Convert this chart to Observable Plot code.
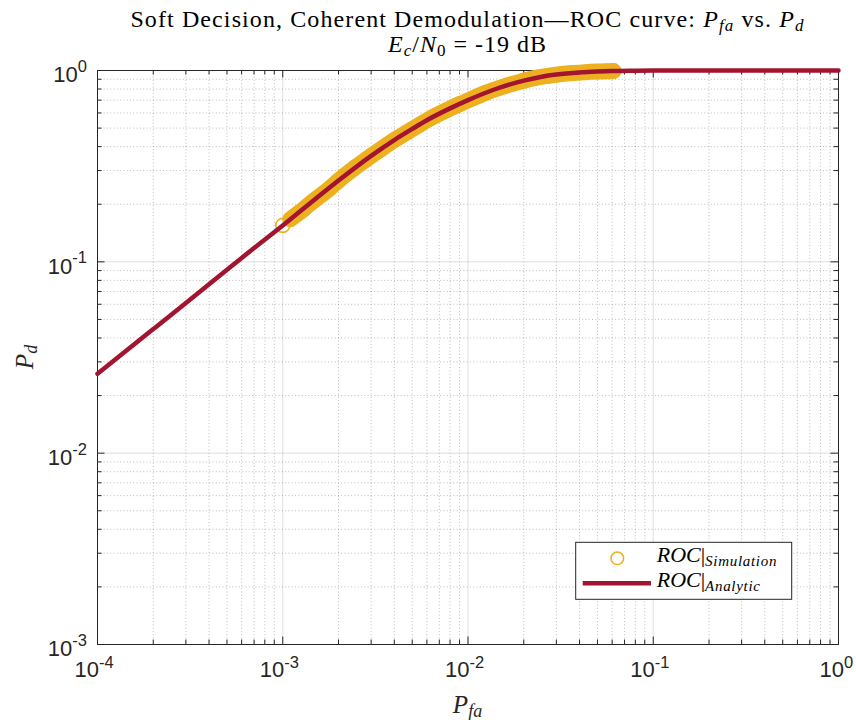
<!DOCTYPE html>
<html><head><meta charset="utf-8">
<script src="https://cdn.jsdelivr.net/npm/d3@7"></script>
<script src="https://cdn.jsdelivr.net/npm/@observablehq/plot@0.6"></script>
<style>body{margin:0;background:#fff} svg{display:block}</style>
</head><body><div id="chart"></div>
<script>
// ---- data ----
const analyticPfa = [1e-4, 2e-4, 3e-4, 5e-4, 7e-4, 1e-3, 1.5e-3, 2e-3, 3e-3, 4e-3, 5e-3, 6e-3, 8e-3, 1e-2, 1.4e-2, 2e-2, 2.5e-2, 3e-2, 4e-2, 5e-2, 6e-2, 8e-2, 0.1, 0.2, 0.5, 1];
const analyticPd  = [0.026, 0.0445, 0.061, 0.091, 0.118, 0.155, 0.213, 0.266, 0.358, 0.433, 0.495, 0.550, 0.634, 0.700, 0.798, 0.885, 0.928, 0.952, 0.976, 0.987, 0.993, 0.997, 0.999, 1, 1, 1];

const simPfa = [0.0010, 0.0011, 0.0012, 0.0013, 0.0014, 0.0016, 0.0018, 0.0020, 0.0024, 0.0028, 0.0033, 0.0040, 0.0047, 0.0055, 0.0065, 0.0077, 0.0090, 0.0105, 0.0125, 0.0150, 0.0175, 0.0200, 0.0235, 0.0275, 0.0320, 0.0370, 0.0430, 0.0500, 0.0560, 0.0610];
const simPd  = [0.155, 0.167, 0.178, 0.189, 0.201, 0.222, 0.243, 0.266, 0.306, 0.341, 0.381, 0.433, 0.476, 0.522, 0.573, 0.622, 0.667, 0.712, 0.765, 0.815, 0.853, 0.885, 0.918, 0.940, 0.958, 0.970, 0.980, 0.987, 0.991, 0.993];

const xMajor = [1e-4, 1e-3, 1e-2, 1e-1, 1];
const xTickExp = ["-4", "-3", "-2", "-1", "0"];
const yMajor = [1e-3, 1e-2, 1e-1, 1];
const yTickExp = ["-3", "-2", "-1", "0"];
const xMinor = [2e-4,3e-4,4e-4,5e-4,6e-4,7e-4,8e-4,9e-4, 2e-3,3e-3,4e-3,5e-3,6e-3,7e-3,8e-3,9e-3, 2e-2,3e-2,4e-2,5e-2,6e-2,7e-2,8e-2,9e-2, 0.2,0.3,0.4,0.5,0.6,0.7,0.8,0.9];
const yMinor = [2e-3,3e-3,4e-3,5e-3,6e-3,7e-3,8e-3,9e-3, 2e-2,3e-2,4e-2,5e-2,6e-2,7e-2,8e-2,9e-2, 0.2,0.3,0.4,0.5,0.6,0.7,0.8,0.9];

const seriesNames = ["Simulation", "Analytic"];

// ---- build tables ----
const analytic = analyticPfa.map((x, i) => ({pfa: x, pd: analyticPd[i]}));
const sim = simPfa.map((x, i) => ({pfa: x, pd: simPd[i]}));
const xTicks = xMajor.map((v, i) => ({v, e: xTickExp[i]}));
const yTicks = yMajor.map((v, i) => ({v, e: yTickExp[i]}));
const xNeg = xTicks.filter(d => d.e !== "0"), xZero = xTicks.filter(d => d.e === "0");
const yNeg = yTicks.filter(d => d.e !== "0"), yZero = yTicks.filter(d => d.e === "0");

const red = "#A2142F", yellow = "#EDB120", ax = "#262626";
const W = 856, H = 720, ml = 97, mr = 18, mt = 70, mb = 76;
const pw = W - ml - mr, ph = H - mt - mb;
const sans = "'Liberation Sans', Arial, sans-serif";
const serif = "'Liberation Serif', 'Times New Roman', serif";
const MAJ = 7.5, MIN = 4.5;
const lab = {fontFamily: sans, fill: ax};

const plot = Plot.plot({
  width: W, height: H,
  marginLeft: ml, marginRight: mr, marginTop: mt, marginBottom: mb,
  x: {type: "log", domain: [1e-4, 1], axis: null},
  y: {type: "log", domain: [1e-3, 1], axis: null},
  style: {background: "white", overflow: "visible"},
  marks: [
    Plot.gridX(xMinor, {stroke: ax, strokeOpacity: 0.3, strokeDasharray: "1,2.3"}),
    Plot.gridY(yMinor, {stroke: ax, strokeOpacity: 0.3, strokeDasharray: "1,2.3"}),
    Plot.gridX(xMajor, {stroke: ax, strokeOpacity: 0.15}),
    Plot.gridY(yMajor, {stroke: ax, strokeOpacity: 0.15}),
    Plot.frame({stroke: ax, strokeWidth: 1}),
    // inward ticks on all four sides
    Plot.ruleX(xMajor, {stroke: ax, insetTop: ph - MAJ}),
    Plot.ruleX(xMinor, {stroke: ax, insetTop: ph - MIN}),
    Plot.ruleX(xMajor, {stroke: ax, insetBottom: ph - MAJ}),
    Plot.ruleX(xMinor, {stroke: ax, insetBottom: ph - MIN}),
    Plot.ruleY(yMajor, {stroke: ax, insetRight: pw - MAJ}),
    Plot.ruleY(yMinor, {stroke: ax, insetRight: pw - MIN}),
    Plot.ruleY(yMajor, {stroke: ax, insetLeft: pw - MAJ}),
    Plot.ruleY(yMinor, {stroke: ax, insetLeft: pw - MIN}),
    // simulation: dense overlapping markers -> band, plus the markers themselves
    Plot.line(sim.slice(1), {x: "pfa", y: "pd", stroke: yellow, strokeWidth: 16, strokeLinecap: "round", strokeLinejoin: "round", curve: "monotone-x"}),
    Plot.dot(sim, {x: "pfa", y: "pd", r: 7, stroke: yellow, strokeWidth: 1.6, fill: "none"}),
    // analytic
    Plot.line(analytic, {x: "pfa", y: "pd", stroke: red, strokeWidth: 4.5, curve: "monotone-x"}),
    // x tick labels
    Plot.text(xNeg, {x: "v", text: () => "10", frameAnchor: "bottom", dy: 32, dx: 1.5, textAnchor: "end", fontSize: 22, ...lab}),
    Plot.text(xNeg, {x: "v", text: "e", frameAnchor: "bottom", dy: 23, dx: 1.5, textAnchor: "start", fontSize: 16.5, ...lab}),
    Plot.text(xZero, {x: "v", text: () => "10", frameAnchor: "bottom", dy: 32, dx: 5.5, textAnchor: "end", fontSize: 22, ...lab}),
    Plot.text(xZero, {x: "v", text: "e", frameAnchor: "bottom", dy: 23, dx: 5.5, textAnchor: "start", fontSize: 16.5, ...lab}),
    // y tick labels
    Plot.text(yTicks, {y: "v", text: "e", frameAnchor: "left", dx: -10.5, dy: -3.8, textAnchor: "end", fontSize: 16.5, ...lab}),
    Plot.text(yNeg, {y: "v", text: () => "10", frameAnchor: "left", dx: -10.5 - 14.7, dy: 4.7, textAnchor: "end", fontSize: 22, ...lab}),
    Plot.text(yZero, {y: "v", text: () => "10", frameAnchor: "left", dx: -10.5 - 9.2, dy: 4.7, textAnchor: "end", fontSize: 22, ...lab})
  ]
});

document.getElementById("chart").appendChild(plot);

// ---- title, axis labels, legend (annotations with sub/superscripts) ----
const svg = d3.select(plot);
const cx = ml + pw / 2;
function rich(parent, parts) {
  parts.forEach(p => {
    const ts = parent.append("tspan").text(p.t);
    if (p.i) ts.attr("font-style", "italic");
    if (p.s) ts.attr("font-size", p.s);
    if (p.dy) ts.attr("dy", p.dy);
    if (p.ls != null) ts.attr("letter-spacing", p.ls);
  });
}
const t1 = svg.append("text").attr("x", cx).attr("y", 27).attr("text-anchor", "middle")
  .attr("font-family", serif).attr("font-size", 24).attr("letter-spacing", 1.1).attr("fill", "#000");
rich(t1, [
  {t: "Soft Decision, Coherent Demodulation—ROC curve: "},
  {t: "P", i: 1}, {t: "fa", i: 1, s: 17, dy: 4}, {t: " vs. ", dy: -4},
  {t: "P", i: 1}, {t: "d", i: 1, s: 17, dy: 4}
]);
const t2 = svg.append("text").attr("x", cx).attr("y", 52).attr("text-anchor", "middle")
  .attr("font-family", serif).attr("font-size", 24).attr("letter-spacing", 1).attr("fill", "#000");
rich(t2, [
  {t: "E", i: 1}, {t: "c", i: 1, s: 17, dy: 4}, {t: "/", dy: -4},
  {t: "N", i: 1}, {t: "0", s: 17, dy: 4}, {t: " = -19 dB", dy: -4}
]);
const xl = svg.append("text").attr("x", cx).attr("y", 713).attr("text-anchor", "middle")
  .attr("font-family", serif).attr("font-size", 25).attr("fill", ax);
rich(xl, [{t: "P", i: 1}, {t: "fa", i: 1, s: 18, dy: 4}]);
const yl = svg.append("text").attr("transform", `translate(33,${mt + ph / 2}) rotate(-90)`)
  .attr("text-anchor", "middle").attr("font-family", serif).attr("font-size", 25).attr("fill", ax);
rich(yl, [{t: "P", i: 1}, {t: "d", i: 1, s: 18, dy: 4}]);

// legend
const lg = svg.append("g");
lg.append("rect").attr("x", 575.7).attr("y", 542.3).attr("width", 216).attr("height", 57)
  .attr("fill", "white").attr("stroke", ax).attr("stroke-width", 1);
lg.append("circle").attr("cx", 617.3).attr("cy", 558.3).attr("r", 6.3)
  .attr("fill", "none").attr("stroke", yellow).attr("stroke-width", 1.5);
lg.append("line").attr("x1", 582.7).attr("x2", 651).attr("y1", 583.3).attr("y2", 583.3)
  .attr("stroke", red).attr("stroke-width", 4.5);
[[562.3, seriesNames[0]], [586.7, seriesNames[1]]].forEach(([yb, name]) => {
  const t = lg.append("text").attr("x", 656.7).attr("y", yb).attr("text-anchor", "start")
    .attr("font-family", serif).attr("font-size", 22).attr("fill", "#000");
  rich(t, [{t: "ROC", i: 1}, {t: "|"}, {t: name, i: 1, s: 15, dy: 4, ls: 0.7}]);
});
</script>
</body></html>
